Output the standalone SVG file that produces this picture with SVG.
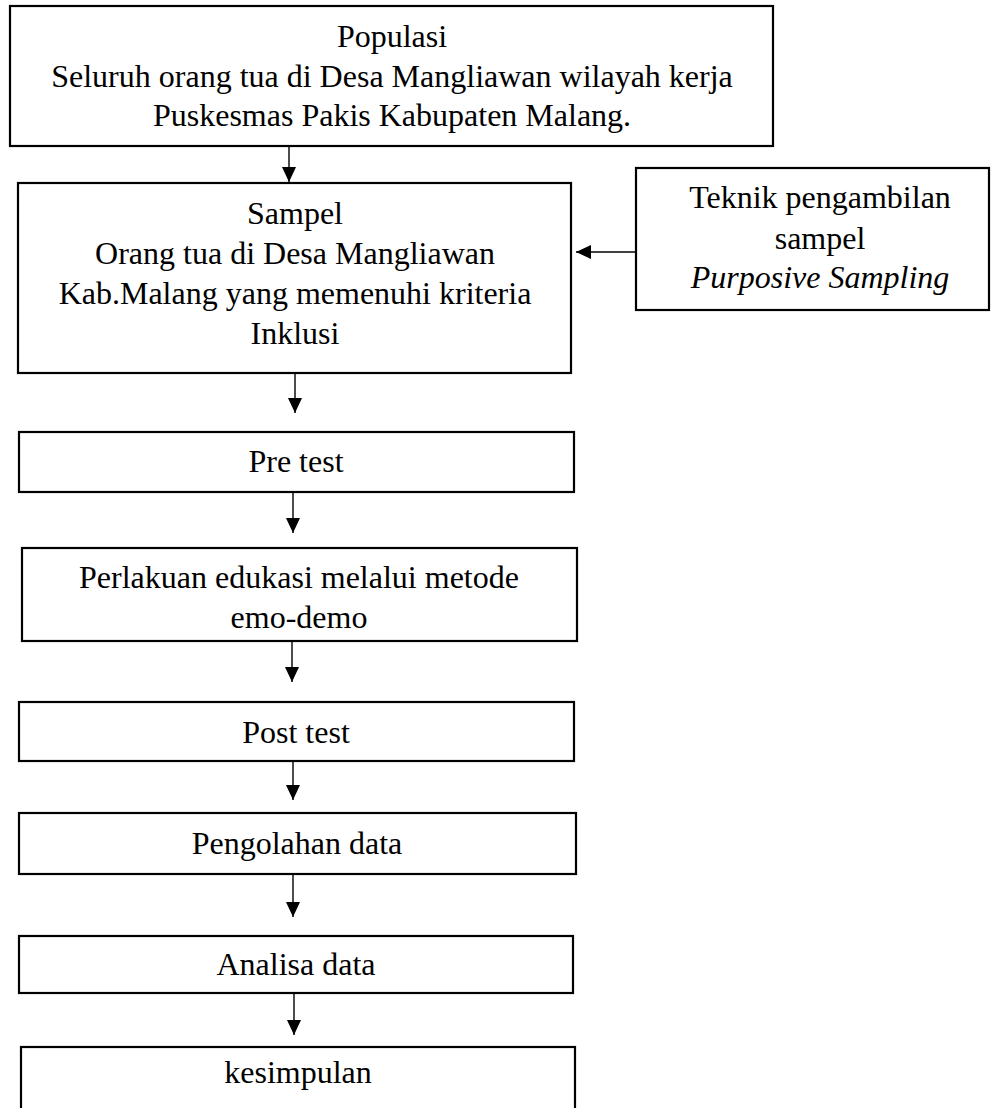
<svg xmlns="http://www.w3.org/2000/svg" width="992" height="1108" viewBox="0 0 992 1108">
<style>
.box{fill:#fff;stroke:#000;stroke-width:2.2}
.t{font-family:"Liberation Serif","Times New Roman",serif;font-size:32px;fill:#000;text-anchor:middle}
.i{font-style:italic}
.c{stroke:#000;stroke-width:1.4;fill:none}
</style>
<defs>
<marker id="ah" viewBox="0 0 15 14" refX="15" refY="7" markerWidth="15" markerHeight="14" markerUnits="userSpaceOnUse" orient="auto">
<path d="M0,0 L15,7 L0,14 z" fill="#000"/>
</marker>
</defs>
<rect width="992" height="1108" fill="#fff"/>
<g id="populasi">
<rect class="box" x="10" y="6" width="763" height="140"/>
<text class="t" x="392" y="47">Populasi</text>
<text class="t" x="392" y="87">Seluruh orang tua di Desa Mangliawan wilayah kerja</text>
<text class="t" x="392" y="126">Puskesmas Pakis Kabupaten Malang.</text>
</g>
<g id="sampel">
<rect class="box" x="18" y="183" width="553" height="190"/>
<text class="t" x="295" y="224">Sampel</text>
<text class="t" x="295" y="264">Orang tua di Desa Mangliawan</text>
<text class="t" x="295" y="304">Kab.Malang yang memenuhi kriteria</text>
<text class="t" x="295" y="344">Inklusi</text>
</g>
<g id="teknik">
<rect class="box" x="636" y="168" width="353" height="142"/>
<text class="t" x="820" y="208">Teknik pengambilan</text>
<text class="t" x="820" y="249">sampel</text>
<text class="t i" x="820" y="288">Purposive Sampling</text>
</g>
<g id="pretest">
<rect class="box" x="19" y="432" width="555" height="60"/>
<text class="t" x="296" y="472">Pre test</text>
</g>
<g id="perlakuan">
<rect class="box" x="22" y="548" width="555" height="93"/>
<text class="t" x="299" y="588">Perlakuan edukasi melalui metode</text>
<text class="t" x="299" y="628">emo-demo</text>
</g>
<g id="posttest">
<rect class="box" x="19" y="702" width="555" height="59"/>
<text class="t" x="296" y="743">Post test</text>
</g>
<g id="pengolahan">
<rect class="box" x="19" y="813" width="557" height="61"/>
<text class="t" x="297" y="854">Pengolahan data</text>
</g>
<g id="analisa">
<rect class="box" x="19" y="936" width="554" height="57"/>
<text class="t" x="296" y="975">Analisa data</text>
</g>
<g id="kesimpulan">
<rect class="box" x="21" y="1047" width="554" height="80"/>
<text class="t" x="298" y="1083">kesimpulan</text>
</g>
<g id="connectors">
<line class="c" x1="289" y1="147" x2="289" y2="182" marker-end="url(#ah)"/>
<line class="c" x1="295" y1="374" x2="295" y2="413" marker-end="url(#ah)"/>
<line class="c" x1="293" y1="493" x2="293" y2="533" marker-end="url(#ah)"/>
<line class="c" x1="292" y1="642" x2="292" y2="682" marker-end="url(#ah)"/>
<line class="c" x1="293" y1="762" x2="293" y2="800" marker-end="url(#ah)"/>
<line class="c" x1="293" y1="875" x2="293" y2="917" marker-end="url(#ah)"/>
<line class="c" x1="294" y1="994" x2="294" y2="1035" marker-end="url(#ah)"/>
<line class="c" x1="636" y1="252" x2="576" y2="252" marker-end="url(#ah)"/>
</g>
</svg>
